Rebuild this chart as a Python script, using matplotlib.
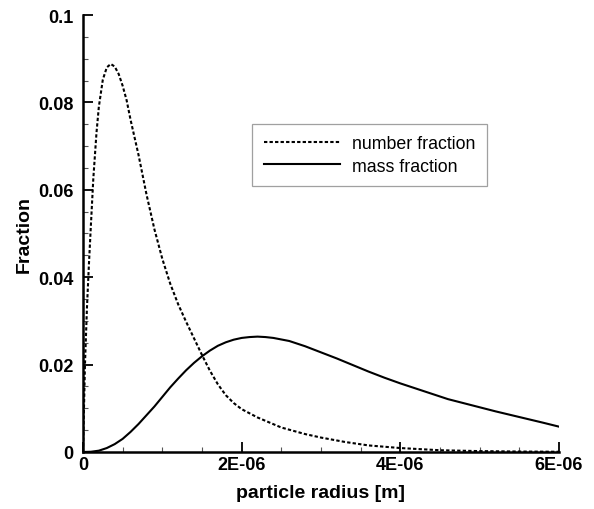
"""
Number and mass fraction vs. particle radius
"""

### Import modules
import numpy as np
import matplotlib
matplotlib.use('Agg')
import matplotlib.pyplot as plt
from matplotlib.ticker import MultipleLocator, FixedLocator, FixedFormatter

### Data (radius in micrometres)
r_number = [0.0, 0.025, 0.05, 0.075, 0.1, 0.13, 0.17, 0.2, 0.25, 0.3, 0.35,
            0.4, 0.45, 0.5, 0.55, 0.6, 0.7, 0.8, 0.9, 1.0, 1.1, 1.2, 1.3,
            1.4, 1.5, 1.6, 1.7, 1.8, 1.9, 2.0, 2.2, 2.5, 2.8, 3.0, 3.3, 3.6,
            4.0, 4.5, 5.0, 5.5, 6.0]
number_frac = [0.0, 0.020, 0.033, 0.043, 0.052, 0.0625, 0.0730, 0.0790,
               0.0852, 0.0880, 0.0888, 0.0882, 0.0865, 0.0838, 0.0805,
               0.0760, 0.0680, 0.0590, 0.0510, 0.0442, 0.0385, 0.0338,
               0.0298, 0.0260, 0.0222, 0.0186, 0.0155, 0.0130, 0.0112,
               0.0098, 0.0079, 0.0056, 0.0041, 0.0033, 0.0023, 0.0015,
               0.0009, 0.0004, 0.0002, 0.0001, 0.00005]

r_mass = [0.0, 0.1, 0.2, 0.3, 0.4, 0.5, 0.6, 0.7, 0.8, 0.9, 1.0, 1.1, 1.2,
          1.3, 1.4, 1.5, 1.6, 1.7, 1.8, 1.9, 2.0, 2.1, 2.2, 2.3, 2.4, 2.6,
          2.8, 3.0, 3.2, 3.4, 3.6, 3.8, 4.0, 4.3, 4.6, 4.9, 5.2, 5.5, 5.8,
          6.0]
mass_frac = [0.0, 0.00005, 0.0003, 0.0009, 0.0018, 0.0030, 0.0046, 0.0064,
             0.0084, 0.0104, 0.0126, 0.0148, 0.0168, 0.0187, 0.0204, 0.0219,
             0.0232, 0.0243, 0.0251, 0.0257, 0.0261, 0.0263, 0.0264, 0.0263,
             0.0261, 0.0254, 0.0242, 0.0228, 0.0214, 0.0199, 0.0184, 0.0170,
             0.0157, 0.0139, 0.0121, 0.0107, 0.0093, 0.0080, 0.0067, 0.0058]

xticks = [0, 2e-6, 4e-6, 6e-6]
xticklabels = ['0', '2E-06', '4E-06', '6E-06']
yticks = [0, 0.02, 0.04, 0.06, 0.08, 0.1]
yticklabels = ['0', '0.02', '0.04', '0.06', '0.08', '0.1']

### Plot figure
plt.rc('font', family=['Liberation Sans', 'DejaVu Sans'])

fig = plt.figure(figsize=(5.94, 5.10), dpi=100)
ax = fig.add_axes([0.1397, 0.1118, 0.8013, 0.8568])

ax.spines['top'].set_color('none')
ax.spines['right'].set_color('none')
ax.spines['bottom'].set_linewidth(1.8)
ax.spines['left'].set_linewidth(1.8)

ax.plot(np.array(r_number) * 1e-6, number_frac, color='black', lw=1.5,
        linestyle=(0, (1.6, 1.05)), label='number fraction')
ax.plot(np.array(r_mass) * 1e-6, mass_frac, color='black', lw=1.5,
        label='mass fraction')

ax.set_xlim(0, 6e-6)
ax.set_ylim(0, 0.1)
ax.xaxis.set_major_locator(FixedLocator(xticks))
ax.xaxis.set_major_formatter(FixedFormatter(xticklabels))
ax.yaxis.set_major_locator(FixedLocator(yticks))
ax.yaxis.set_major_formatter(FixedFormatter(yticklabels))
ax.xaxis.set_minor_locator(MultipleLocator(0.5e-6))
ax.yaxis.set_minor_locator(MultipleLocator(0.005))

ax.tick_params(which='major', direction='in', length=7, width=1.3,
               labelsize=13, top=False, right=False)
ax.tick_params(which='minor', direction='in', length=3.5, width=0.8,
               color='#555555', top=False, right=False)
ax.tick_params(axis='x', which='major', pad=3)
ax.tick_params(axis='y', which='major', pad=7)
for lab in ax.get_xticklabels() + ax.get_yticklabels():
    lab.set_fontweight('bold')

ax.set_xlabel('particle radius [m]', fontsize=14, fontweight='bold',
              labelpad=8)
ax.set_ylabel('Fraction', fontsize=14, fontweight='bold', labelpad=4)

leg = ax.legend(loc='upper left', bbox_to_anchor=(0.355, 0.751),
                fontsize=12.8, frameon=True, fancybox=False,
                handlelength=4.3, handletextpad=0.7, labelspacing=0.3,
                borderpad=0.65, borderaxespad=0)
leg.get_frame().set_edgecolor('#888888')
leg.get_frame().set_linewidth(0.9)

plt.savefig('out.png', dpi=100)
